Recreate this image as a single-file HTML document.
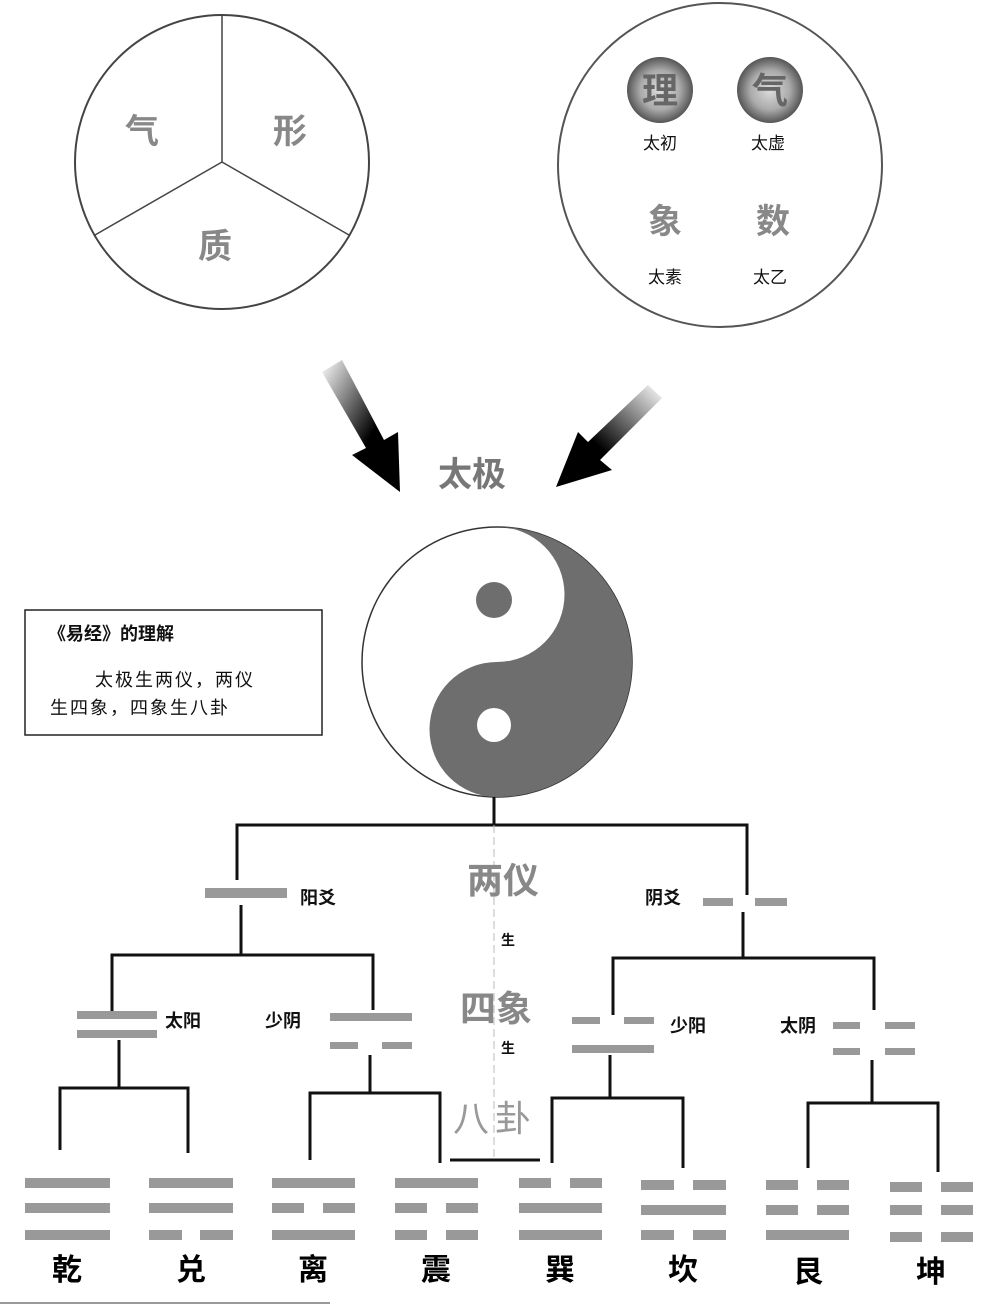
<!DOCTYPE html>
<html><head><meta charset="utf-8"><style>
html,body{margin:0;padding:0;background:#fff;}
svg{display:block;}
text{font-family:"Liberation Sans","Noto Sans CJK SC",sans-serif;}
</style></head><body>
<svg width="986" height="1310" viewBox="0 0 986 1310" xmlns="http://www.w3.org/2000/svg">
<defs>
<radialGradient id="ball" cx="50%" cy="50%" r="50%">
<stop offset="0" stop-color="#ddd"/><stop offset="0.6" stop-color="#aaa"/><stop offset="1" stop-color="#555"/>
</radialGradient>
<linearGradient id="tailL" x1="0" y1="0" x2="1" y2="1">
<stop offset="0" stop-color="#fff"/><stop offset="0.6" stop-color="#000"/>
</linearGradient>
<linearGradient id="tailR" x1="1" y1="0" x2="0" y2="1">
<stop offset="0" stop-color="#fff"/><stop offset="0.6" stop-color="#000"/>
</linearGradient>
</defs>

<!-- top-left circle -->
<circle cx="222" cy="162" r="147" fill="none" stroke="#444" stroke-width="2"/>
<line x1="222" y1="15" x2="222" y2="162" stroke="#444" stroke-width="1.5"/>
<line x1="222" y1="162" x2="95" y2="235" stroke="#444" stroke-width="1.5"/>
<line x1="222" y1="162" x2="349" y2="235" stroke="#444" stroke-width="1.5"/>
<g fill="#888" font-size="34" font-weight="bold" text-anchor="middle">
<text x="142" y="143">气</text><text x="290" y="143">形</text><text x="215" y="258">质</text>
</g>

<!-- top-right circle -->
<circle cx="720" cy="165" r="162" fill="none" stroke="#555" stroke-width="2"/>
<circle cx="660" cy="90" r="33" fill="url(#ball)"/>
<circle cx="770" cy="90" r="33" fill="url(#ball)"/>
<g fill="#666" font-size="36" font-weight="bold" text-anchor="middle">
<text x="660" y="103">理</text><text x="770" y="103">气</text>
</g>
<g fill="#888" font-size="34" font-weight="bold" text-anchor="middle">
<text x="665" y="233">象</text><text x="773" y="233">数</text>
</g>
<g fill="#111" font-size="17" text-anchor="middle">
<text x="660" y="149">太初</text><text x="768" y="149">太虚</text>
<text x="665" y="283">太素</text><text x="770" y="283">太乙</text>
</g>

<!-- arrows -->
<polygon points="322,372 342,360 384,440 398,432 400,492 352,455 366,448" fill="url(#tailL)"/>
<polygon points="662,398 648,385 588,442 578,432 556,487 612,470 600,460" fill="url(#tailR)"/>
<text x="472" y="486" fill="#777" font-size="34" font-weight="bold" text-anchor="middle">太极</text>

<!-- yin yang -->
<circle cx="497" cy="662" r="135" fill="#fff" stroke="#333" stroke-width="1.5"/>
<path d="M497,527 A135,135 0 0 1 497,797 A67.5,67.5 0 0 1 497,662 A67.5,67.5 0 0 0 497,527 Z" fill="#6e6e6e"/>
<circle cx="494" cy="600" r="18" fill="#6e6e6e"/>
<circle cx="494" cy="725" r="17" fill="#fff"/>

<!-- box -->
<rect x="25" y="610" width="297" height="125" fill="#fff" stroke="#222" stroke-width="1.5"/>
<text x="48" y="640" font-size="18" font-weight="bold" fill="#111">《易经》的理解</text>
<text x="95" y="686" font-size="18" fill="#111" letter-spacing="2">太极生两仪，两仪</text>
<text x="50" y="714" font-size="18" fill="#111" letter-spacing="2">生四象，四象生八卦</text>

<!-- tree lines -->
<g stroke="#111" stroke-width="3" fill="none">
<line x1="494" y1="797" x2="494" y2="825"/>
<polyline points="237,880 237,825 747,825 747,895"/>
<line x1="241" y1="905" x2="241" y2="955"/>
<polyline points="112,1012 112,955 373,955 373,1010"/>
<line x1="743" y1="912" x2="743" y2="958"/>
<polyline points="613,1015 613,958 874,958 874,1010"/>
<line x1="119" y1="1040" x2="119" y2="1088"/>
<polyline points="60,1150 60,1088 188,1088 188,1153"/>
<line x1="370" y1="1055" x2="370" y2="1093"/>
<polyline points="310,1160 310,1093 440,1093 440,1163"/>
<line x1="610" y1="1055" x2="610" y2="1098"/>
<polyline points="552,1163 552,1098 683,1098 683,1168"/>
<line x1="872" y1="1060" x2="872" y2="1103"/>
<polyline points="808,1168 808,1103 938,1103 938,1172"/>
<line x1="450" y1="1160" x2="540" y2="1160"/>
</g>
<line x1="494" y1="825" x2="494" y2="1160" stroke="#bbb" stroke-width="1" stroke-dasharray="8,4"/>

<g fill="#888" font-size="36" font-weight="bold" text-anchor="middle">
<text x="503" y="893">两仪</text><text x="496" y="1021">四象</text>
</g>
<text x="495" y="1131" fill="#999" font-size="36" text-anchor="middle" letter-spacing="6">八卦</text>
<g fill="#111" font-size="14" font-weight="bold" text-anchor="middle">
<text x="508" y="945">生</text><text x="508" y="1053">生</text>
</g>
<g fill="#111" font-size="18" font-weight="bold">
<text x="300" y="904">阳爻</text><text x="645" y="904">阴爻</text>
<text x="165" y="1027">太阳</text><text x="265" y="1027">少阴</text>
<text x="670" y="1032">少阳</text><text x="780" y="1032">太阴</text>
</g>

<!-- yao bars -->
<g fill="#999">
<rect x="205" y="888" width="82" height="10"/>
<rect x="703" y="898" width="30" height="8"/><rect x="755" y="898" width="32" height="8"/>
<rect x="77" y="1011" width="80" height="8"/><rect x="77" y="1030" width="80" height="8"/>
<rect x="330" y="1013" width="82" height="8"/><rect x="330" y="1042" width="28" height="7"/><rect x="382" y="1042" width="30" height="7"/>
<rect x="572" y="1017" width="28" height="7"/><rect x="624" y="1017" width="30" height="7"/><rect x="572" y="1045" width="82" height="8"/>
<rect x="833" y="1022" width="27" height="7"/><rect x="885" y="1022" width="30" height="7"/>
<rect x="833" y="1048" width="27" height="7"/><rect x="885" y="1048" width="30" height="7"/>
</g>

<!-- trigrams -->
<g fill="#999">
<rect x="25" y="1178" width="85" height="10"/><rect x="25" y="1203" width="85" height="10"/><rect x="25" y="1230" width="85" height="10"/>
<rect x="149" y="1178" width="84" height="10"/><rect x="149" y="1203" width="84" height="10"/><rect x="149" y="1230" width="33" height="10"/><rect x="200" y="1230" width="33" height="10"/>
<rect x="272" y="1178" width="83" height="10"/><rect x="272" y="1203" width="32" height="10"/><rect x="323" y="1203" width="32" height="10"/><rect x="272" y="1230" width="83" height="10"/>
<rect x="395" y="1178" width="83" height="10"/><rect x="395" y="1203" width="32" height="10"/><rect x="446" y="1203" width="32" height="10"/><rect x="395" y="1230" width="32" height="10"/><rect x="446" y="1230" width="32" height="10"/>
<rect x="519" y="1178" width="32" height="10"/><rect x="570" y="1178" width="32" height="10"/><rect x="519" y="1203" width="83" height="10"/><rect x="519" y="1230" width="83" height="10"/>
<rect x="641" y="1180" width="33" height="10"/><rect x="693" y="1180" width="33" height="10"/><rect x="641" y="1205" width="85" height="10"/><rect x="641" y="1230" width="33" height="10"/><rect x="693" y="1230" width="33" height="10"/>
<rect x="766" y="1180" width="32" height="10"/><rect x="817" y="1180" width="32" height="10"/><rect x="766" y="1205" width="32" height="10"/><rect x="817" y="1205" width="32" height="10"/><rect x="766" y="1230" width="83" height="10"/>
<rect x="890" y="1182" width="32" height="10"/><rect x="941" y="1182" width="32" height="10"/><rect x="890" y="1205" width="32" height="10"/><rect x="941" y="1205" width="32" height="10"/><rect x="890" y="1232" width="32" height="10"/><rect x="941" y="1232" width="32" height="10"/>
</g>
<g fill="#000" font-size="30" font-weight="bold" text-anchor="middle">
<text x="67" y="1280">乾</text><text x="191" y="1280">兑</text><text x="313" y="1280">离</text><text x="436" y="1280">震</text>
<text x="560" y="1280">巽</text><text x="683" y="1280">坎</text><text x="808" y="1282">艮</text><text x="931" y="1282">坤</text>
</g>
<line x1="0" y1="1303" x2="330" y2="1303" stroke="#999" stroke-width="2"/>
</svg>
</body></html>
